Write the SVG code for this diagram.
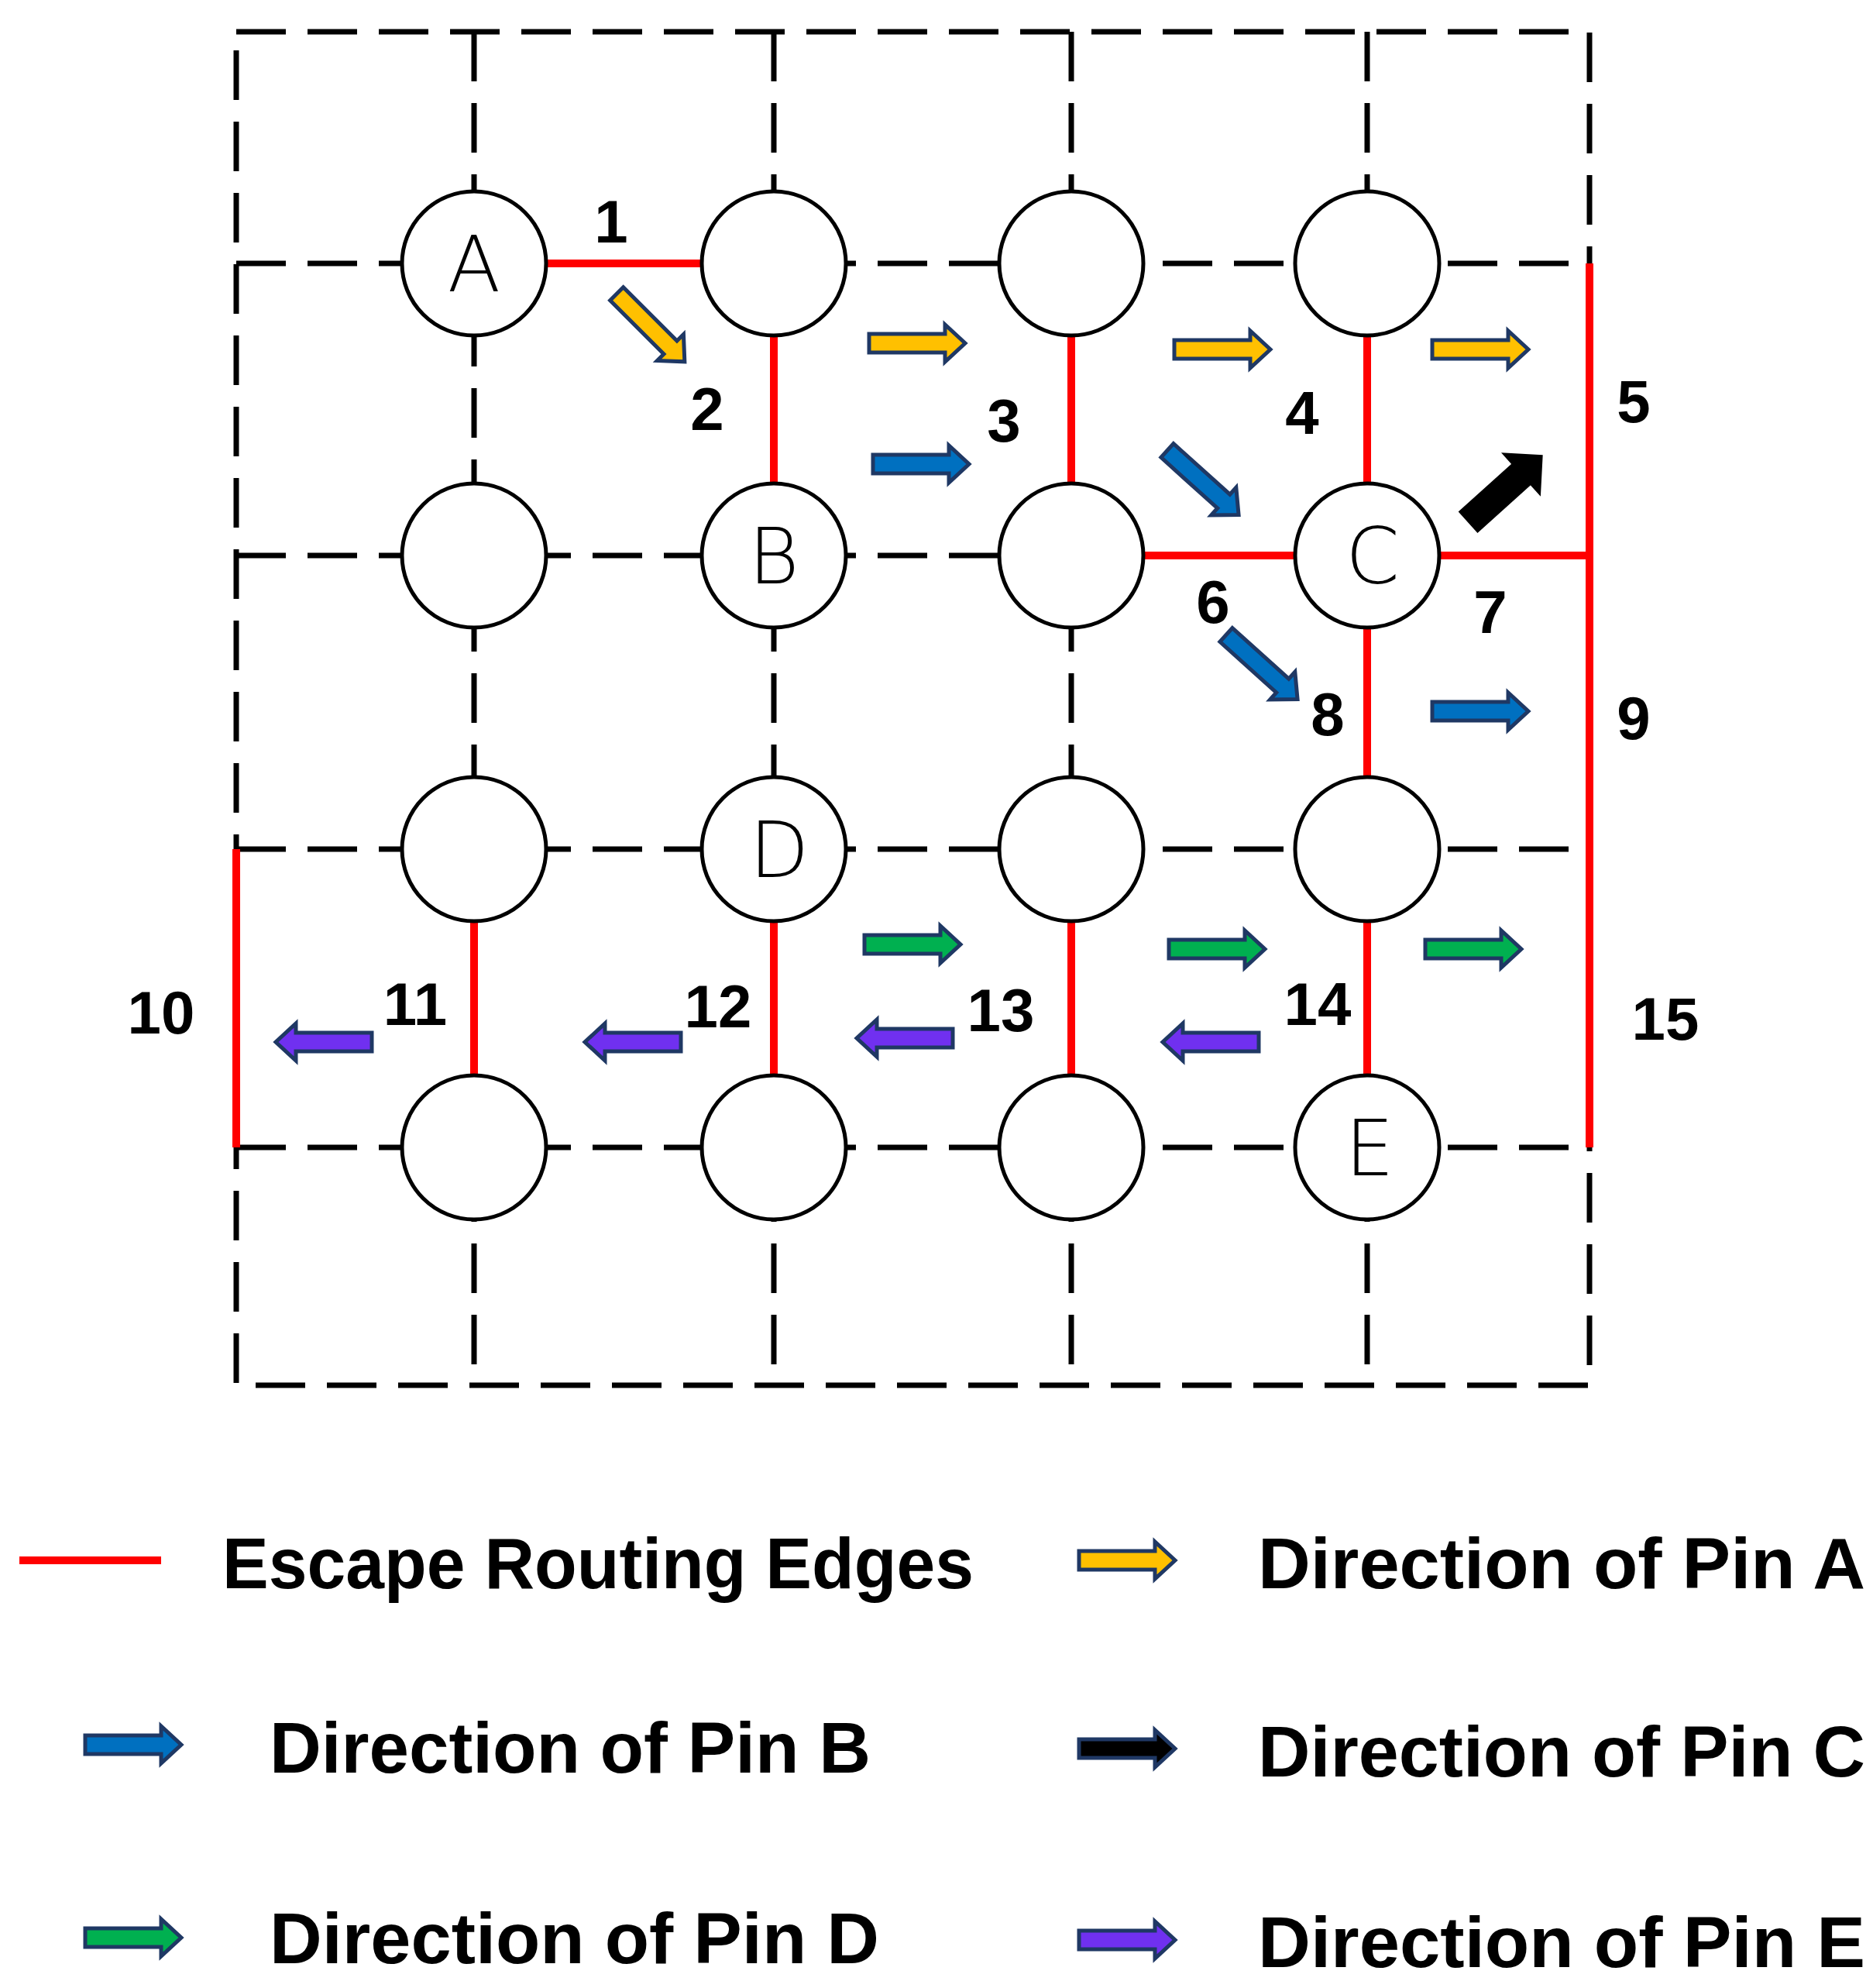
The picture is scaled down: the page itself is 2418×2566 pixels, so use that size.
<svg xmlns="http://www.w3.org/2000/svg" width="2418" height="2566" viewBox="0 0 2418 2566">
<style>
.g{stroke:#000;stroke-width:7;stroke-dasharray:64 28;fill:none}
.r{stroke:#ff0000;stroke-width:10;fill:none}
.n{fill:#fff;stroke:#000;stroke-width:5}
.t{font-family:"Liberation Sans",Arial,sans-serif;font-size:78px;font-weight:bold;fill:#000;text-anchor:middle}
.p{font-family:"DejaVu Sans",sans-serif;font-weight:200;font-size:100px;fill:#000;text-anchor:middle}
.l{font-family:"Liberation Sans",Arial,sans-serif;font-size:92px;font-weight:bold;fill:#000}
.a{stroke:#1f3864;stroke-width:5;stroke-linejoin:miter}
</style>
<defs>
<path id="ar" d="M-62,-12 H36 V-24 L62,0 L36,24 V12 H-62 Z"/>
<path id="ak" d="M-62,-16 H30 V-32 L62,0 L30,32 V16 H-62 Z"/>
</defs>
<rect width="2418" height="2566" fill="#fff"/>
<g id="grid">
<rect class="g" x="305" y="41" width="1747" height="1747"/>
<path class="g" d="M612,41V1788M999,41V1788M1383,41V1788M1765,41V1788M305,340H2052M305,717H2052M305,1096H2052M305,1481H2052"/>
</g>
<g id="connectors">
<path class="r" d="M612,340H999M999,340V717M1383,340V717M1383,717H1765M1765,340V717M1765,717H2052M1765,717V1096M2052,340V1481M612,1096V1481M999,1096V1481M1383,1096V1481M1765,1096V1481M305,1096V1481"/>
</g>
<g id="nodes">
<g id="nA"><circle class="n" cx="612" cy="340" r="93"/><text class="p" x="612" y="376">A</text></g>
<g id="n12"><circle class="n" cx="999" cy="340" r="93"/></g>
<g id="n13"><circle class="n" cx="1383" cy="340" r="93"/></g>
<g id="n14"><circle class="n" cx="1765" cy="340" r="93"/></g>
<g id="n21"><circle class="n" cx="612" cy="717" r="93"/></g>
<g id="nB"><circle class="n" cx="999" cy="717" r="93"/><text class="p" x="999" y="753">B</text></g>
<g id="n23"><circle class="n" cx="1383" cy="717" r="93"/></g>
<g id="nC"><circle class="n" cx="1765" cy="717" r="93"/><text class="p" x="1772" y="753">C</text></g>
<g id="n31"><circle class="n" cx="612" cy="1096" r="93"/></g>
<g id="nD"><circle class="n" cx="999" cy="1096" r="93"/><text class="p" x="1006" y="1132">D</text></g>
<g id="n33"><circle class="n" cx="1383" cy="1096" r="93"/></g>
<g id="n34"><circle class="n" cx="1765" cy="1096" r="93"/></g>
<g id="n41"><circle class="n" cx="612" cy="1481" r="93"/></g>
<g id="n42"><circle class="n" cx="999" cy="1481" r="93"/></g>
<g id="n43"><circle class="n" cx="1383" cy="1481" r="93"/></g>
<g id="nE"><circle class="n" cx="1765" cy="1481" r="93"/><text class="p" x="1768" y="1517">E</text></g>
</g>
<g id="labels">
<text class="t" x="789" y="313">1</text>
<text class="t" x="913" y="555">2</text>
<text class="t" x="1296" y="570">3</text>
<text class="t" x="1681" y="560">4</text>
<text class="t" x="2109" y="545">5</text>
<text class="t" x="1566" y="804">6</text>
<text class="t" x="1924" y="817">7</text>
<text class="t" x="1714" y="949">8</text>
<text class="t" x="2109" y="954">9</text>
<text class="t" x="208" y="1334">10</text>
<text class="t" x="536" y="1323">11</text>
<text class="t" x="927" y="1326">12</text>
<text class="t" x="1292" y="1331">13</text>
<text class="t" x="1701" y="1323">14</text>
<text class="t" x="2150" y="1342">15</text>
</g>
<g id="arrows" class="a">
<use href="#ar" fill="#ffc000" transform="translate(840,423) rotate(45)"/>
<use href="#ar" fill="#ffc000" transform="translate(1184,443)"/>
<use href="#ar" fill="#ffc000" transform="translate(1578,451)"/>
<use href="#ar" fill="#ffc000" transform="translate(1911,451)"/>
<use href="#ar" fill="#0070c0" transform="translate(1189,599)"/>
<use href="#ar" fill="#0070c0" transform="translate(1553,623) rotate(42)"/>
<use href="#ar" fill="#0070c0" transform="translate(1629,861) rotate(42)"/>
<use href="#ar" fill="#0070c0" transform="translate(1911,918)"/>
<use href="#ak" fill="#000" stroke="#000" transform="translate(1943,631) rotate(-42)"/>
<use href="#ar" fill="#00b050" transform="translate(1178,1219)"/>
<use href="#ar" fill="#00b050" transform="translate(1571,1225)"/>
<use href="#ar" fill="#00b050" transform="translate(1902,1225)"/>
<use href="#ar" fill="#7030f0" transform="translate(418,1345) rotate(180)"/>
<use href="#ar" fill="#7030f0" transform="translate(817,1345) rotate(180)"/>
<use href="#ar" fill="#7030f0" transform="translate(1168,1340) rotate(180)"/>
<use href="#ar" fill="#7030f0" transform="translate(1563,1345) rotate(180)"/>
</g>
<g id="legend">
<line class="r" x1="25" y1="2014" x2="208" y2="2014" stroke-width="14"/>
<text class="l" x="287" y="2050" textLength="970" lengthAdjust="spacingAndGlyphs">Escape Routing Edges</text>
<g class="a">
<use href="#ar" fill="#ffc000" transform="translate(1455,2014)"/>
<use href="#ar" fill="#0070c0" transform="translate(172,2252)"/>
<use href="#ar" fill="#000" transform="translate(1455,2257)"/>
<use href="#ar" fill="#00b050" transform="translate(172,2501)"/>
<use href="#ar" fill="#7030f0" transform="translate(1455,2504)"/>
</g>
<text class="l" x="1624" y="2050" textLength="784" lengthAdjust="spacingAndGlyphs">Direction of Pin A</text>
<text class="l" x="348" y="2288" textLength="776" lengthAdjust="spacingAndGlyphs">Direction of Pin B</text>
<text class="l" x="1624" y="2293" textLength="784" lengthAdjust="spacingAndGlyphs">Direction of Pin C</text>
<text class="l" x="348" y="2534" textLength="787" lengthAdjust="spacingAndGlyphs">Direction of Pin D</text>
<text class="l" x="1624" y="2539" textLength="784" lengthAdjust="spacingAndGlyphs">Direction of Pin E</text>
</g>
</svg>
